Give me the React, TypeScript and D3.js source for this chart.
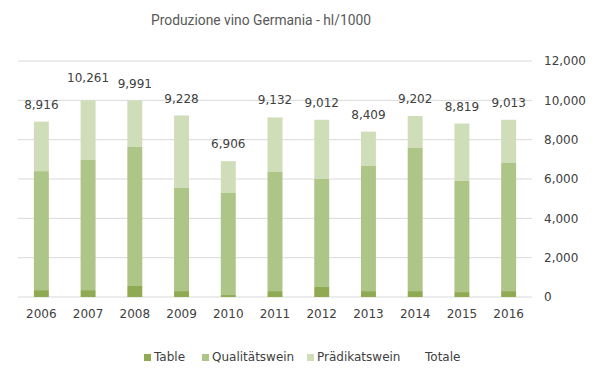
import React from "react";
import * as d3 from "d3";

const years = ["2006","2007","2008","2009","2010","2011","2012","2013","2014","2015","2016"];
const table = [350, 350, 560, 300, 100, 300, 510, 300, 300, 250, 300];
const qualitat = [6050, 6616, 7067, 5242, 5188, 6056, 5490, 6361, 7276, 5648, 6513];
const pradikat = [2516, 3034, 2364, 3686, 1618, 2776, 3012, 1748, 1626, 2921, 2200];
const totale = [8916, 10261, 9991, 9228, 6906, 9132, 9012, 8409, 9202, 8819, 9013];
const yTicks = [0, 2000, 4000, 6000, 8000, 10000, 12000];
const seriesNames = ["Table", "Qualitätswein", "Prädikatswein"];
const colors = ["#8faa52", "#adc586", "#d0ddb9"];

export default function App() {
  const W = 599, H = 378;
  const left = 18, right = 532, top = 61, bottom = 297;
  const x = d3.scaleBand().domain(years).range([left, right]).paddingInner(0.68).paddingOuter(0.34);
  const y = d3.scaleLinear().domain([0, 12000]).range([bottom, top]);
  const rows = years.map((yr, i) => ({ year: yr, Table: table[i], "Qualitätswein": qualitat[i], "Prädikatswein": pradikat[i] }));
  const stack = d3.stack<any>().keys(seriesNames)(rows);
  const fmt = d3.format(",");
  const font = "'DejaVu Sans', Verdana, sans-serif";
  const textColor = "#404040";

  const legendItems = [
    { name: "Table", sx: 144, tx: 154, color: colors[0] },
    { name: "Qualitätswein", sx: 202, tx: 212, color: colors[1] },
    { name: "Prädikatswein", sx: 307, tx: 317, color: colors[2] },
    { name: "Totale", sx: null, tx: 425, color: null },
  ];

  return (
    <svg width={W} height={H} style={{ position: "absolute", left: 0, top: 0, background: "#fff" }} fontFamily={font}>
      <rect x={0} y={0} width={W} height={H} fill="#fff" />
      <text x={261} y={25} textAnchor="middle" fontSize={15} fill="#595959"
        fontFamily="Roboto, 'Liberation Sans', sans-serif" textLength={220} lengthAdjust="spacingAndGlyphs">
        Produzione vino Germania - hl/1000
      </text>
      {yTicks.map((t) => (
        <g key={t}>
          <line x1={left} x2={right} y1={y(t)} y2={y(t)} stroke="#d9d9d9" strokeWidth={1} />
          <text x={544} y={y(t)} dy="0.36em" fontSize={12} fill={textColor}>{fmt(t)}</text>
        </g>
      ))}
      {stack.map((s, si) => (
        <g key={si} fill={colors[si]}>
          {s.map((d: any, i: number) => (
            <rect key={i} x={x(years[i])} width={x.bandwidth()} y={y(d[1])} height={y(d[0]) - y(d[1])} />
          ))}
        </g>
      ))}
      {totale.map((t, i) => (
        <text key={i} x={(x(years[i]) as number) + x.bandwidth() / 2} y={y(t) - 13} textAnchor="middle" fontSize={12} fill={textColor}>
          {fmt(t)}
        </text>
      ))}
      {years.map((yr) => (
        <text key={yr} x={(x(yr) as number) + x.bandwidth() / 2} y={318} textAnchor="middle" fontSize={12} fill={textColor}>{yr}</text>
      ))}
      {legendItems.map((l) => (
        <g key={l.name}>
          {l.sx !== null && <rect x={l.sx} y={354} width={7} height={7} fill={l.color as string} />}
          <text x={l.tx} y={357} dy="0.36em" fontSize={12} fill={textColor}>{l.name}</text>
        </g>
      ))}
    </svg>
  );
}
